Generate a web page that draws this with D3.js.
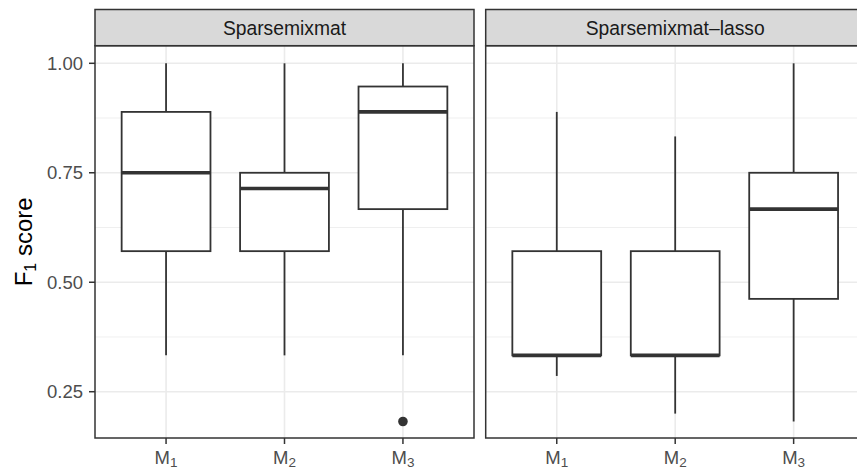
<!DOCTYPE html>
<html>
<head>
<meta charset="utf-8">
<script src="https://cdn.jsdelivr.net/npm/d3@7"></script>
<style>
  html, body { margin: 0; padding: 0; background: #fff; }
  svg { display: block; font-family: "Liberation Sans", Arial, Helvetica, sans-serif; }
</style>
</head>
<body>
<svg id="chart" width="857" height="470"></svg>
<script>
// ---- data ----
const facets = ["Sparsemixmat", "Sparsemixmat\u2013lasso"];
const categories = ["M1", "M2", "M3"];
const categoryLabels = [["M", "1"], ["M", "2"], ["M", "3"]];
// per facet, per category
const whiskerLow  = [[0.333, 0.333, 0.333], [0.286, 0.200, 0.182]];
const q1          = [[0.571, 0.571, 0.667], [0.333, 0.333, 0.462]];
const median      = [[0.750, 0.714, 0.889], [0.333, 0.333, 0.667]];
const q3          = [[0.889, 0.750, 0.947], [0.571, 0.571, 0.750]];
const whiskerHigh = [[1.000, 1.000, 1.000], [0.889, 0.833, 1.000]];
const outliers    = [[[], [], [0.182]], [[], [], []]];
const yTicks = [0.25, 0.50, 0.75, 1.00];
const yTickLabels = ["0.25", "0.50", "0.75", "1.00"];
const yMinorTicks = [0.375, 0.625, 0.875];
const yDomain = [0.1443, 1.0402];

// ---- layout ----
const svg = d3.select("#chart");
const panelW = 379, gap = 11.7;
const panelLeft = 95;
const stripTop = 9.5, stripBottom = 45.7, panelBottom = 438;
const dark = "#333333";

const y = d3.scaleLinear().domain(yDomain).range([panelBottom, stripBottom]);

facets.forEach((facet, fi) => {
  const x0 = panelLeft + fi * (panelW + gap);
  const x = d3.scalePoint().domain(categories).range([x0, x0 + panelW]).padding(0.6);
  const boxW = x.step() * 0.75;
  const g = svg.append("g");

  // background
  g.append("rect").attr("x", x0).attr("y", stripBottom).attr("width", panelW)
    .attr("height", panelBottom - stripBottom).attr("fill", "#fff");

  // minor grid
  g.selectAll(".ymin").data(yMinorTicks).join("line")
    .attr("x1", x0).attr("x2", x0 + panelW)
    .attr("y1", d => y(d)).attr("y2", d => y(d))
    .attr("stroke", "#EBEBEB").attr("stroke-width", 0.8);
  // major grid
  g.selectAll(".ymaj").data(yTicks).join("line")
    .attr("x1", x0).attr("x2", x0 + panelW)
    .attr("y1", d => y(d)).attr("y2", d => y(d))
    .attr("stroke", "#EBEBEB").attr("stroke-width", 1.6);
  g.selectAll(".xmaj").data(categories).join("line")
    .attr("x1", d => x(d)).attr("x2", d => x(d))
    .attr("y1", stripBottom).attr("y2", panelBottom)
    .attr("stroke", "#EBEBEB").attr("stroke-width", 1.6);

  // boxes
  categories.forEach((c, ci) => {
    const cx = x(c);
    g.append("line").attr("x1", cx).attr("x2", cx)
      .attr("y1", y(whiskerHigh[fi][ci])).attr("y2", y(q3[fi][ci]))
      .attr("stroke", dark).attr("stroke-width", 1.8);
    g.append("line").attr("x1", cx).attr("x2", cx)
      .attr("y1", y(q1[fi][ci])).attr("y2", y(whiskerLow[fi][ci]))
      .attr("stroke", dark).attr("stroke-width", 1.8);
    g.append("rect").attr("x", cx - boxW / 2).attr("width", boxW)
      .attr("y", y(q3[fi][ci])).attr("height", y(q1[fi][ci]) - y(q3[fi][ci]))
      .attr("fill", "#fff").attr("stroke", dark).attr("stroke-width", 1.8);
    g.append("line").attr("x1", cx - boxW / 2).attr("x2", cx + boxW / 2)
      .attr("y1", y(median[fi][ci])).attr("y2", y(median[fi][ci]))
      .attr("stroke", dark).attr("stroke-width", 3.6);
    g.selectAll(null).data(outliers[fi][ci]).join("circle")
      .attr("cx", cx).attr("cy", d => y(d)).attr("r", 4.8).attr("fill", dark);
  });

  // panel border
  g.append("rect").attr("x", x0).attr("y", stripBottom).attr("width", panelW)
    .attr("height", panelBottom - stripBottom)
    .attr("fill", "none").attr("stroke", dark).attr("stroke-width", 1.5);

  // strip
  g.append("rect").attr("x", x0).attr("y", stripTop).attr("width", panelW)
    .attr("height", stripBottom - stripTop)
    .attr("fill", "#D9D9D9").attr("stroke", dark).attr("stroke-width", 1.5);
  g.append("text").attr("x", x0 + panelW / 2).attr("y", 35)
    .attr("text-anchor", "middle").attr("font-size", 19.3).attr("fill", "#1A1A1A")
    .text(facet);

  // x axis ticks + labels
  categories.forEach((c, ci) => {
    const cx = x(c);
    g.append("line").attr("x1", cx).attr("x2", cx)
      .attr("y1", panelBottom).attr("y2", panelBottom + 6)
      .attr("stroke", dark).attr("stroke-width", 1.5);
    const t = g.append("text").attr("x", cx).attr("y", 464)
      .attr("text-anchor", "middle").attr("fill", "#4D4D4D").attr("font-size", 18.5);
    t.append("tspan").text(categoryLabels[ci][0]);
    t.append("tspan").attr("dy", 3).attr("font-size", 13.5).text(categoryLabels[ci][1]);
  });

  // y axis (first panel only)
  if (fi === 0) {
    yTicks.forEach((v, i) => {
      g.append("line").attr("x1", x0 - 6).attr("x2", x0)
        .attr("y1", y(v)).attr("y2", y(v))
        .attr("stroke", dark).attr("stroke-width", 1.5);
      g.append("text").attr("x", x0 - 12).attr("y", y(v)).attr("dy", "0.36em")
        .attr("text-anchor", "end").attr("font-size", 18.5).attr("fill", "#4D4D4D")
        .text(yTickLabels[i]);
    });
  }
});

// y axis title
const title = svg.append("text")
  .attr("transform", `translate(32,${(stripBottom + panelBottom) / 2}) rotate(-90)`)
  .attr("text-anchor", "middle").attr("font-size", 24).attr("fill", "#000");
title.append("tspan").text("F");
title.append("tspan").attr("dy", 4).attr("font-size", 16).text("1");
title.append("tspan").attr("dy", -4).text(" score");
</script>
</body>
</html>
